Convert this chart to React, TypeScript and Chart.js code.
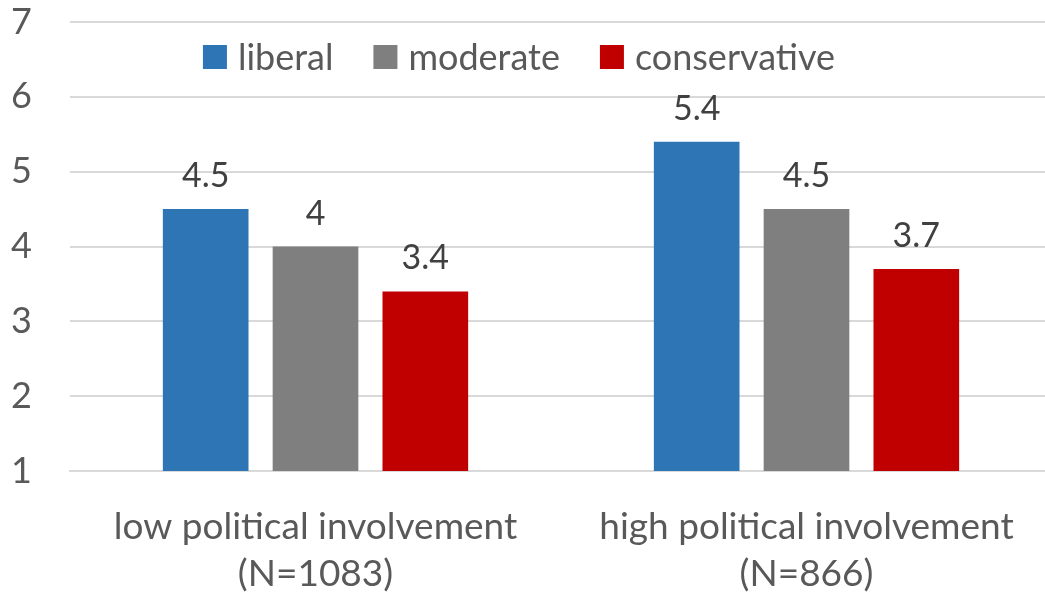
import React, { useEffect, useRef } from "react";
import { Chart, registerables } from "chart.js";

Chart.register(...registerables);

const categories: string[][] = [
  ["low political involvement", "(N=1083)"],
  ["high political involvement", "(N=866)"],
];
const seriesNames = ["liberal", "moderate", "conservative"];
const seriesColors = ["#2E75B6", "#7F7F7F", "#C00000"];
const liberal = [4.5, 5.4];
const moderate = [4.0, 4.5];
const conservative = [3.4, 3.7];
const yMin = 1;
const yMax = 7;
const yStep = 1;

const FONT = "Lato, 'Open Sans', sans-serif";
const TEXT = "#595959";

const legendPlugin = {
  id: "customLegend",
  afterDraw(chart: any) {
    const ctx = chart.ctx;
    ctx.save();
    ctx.font = `36px ${FONT}`;
    ctx.textBaseline = "middle";
    ctx.textAlign = "left";
    const box = 24;
    const gapText = 11;
    const gapItem = 40;
    const widths = seriesNames.map((n) => ctx.measureText(n).width);
    const total =
      widths.reduce((a, b) => a + b, 0) + seriesNames.length * (box + gapText) + gapItem * (seriesNames.length - 1);
    let x = chart.width / 2 - 7 - total / 2;
    const cy = 57;
    seriesNames.forEach((n, i) => {
      ctx.fillStyle = seriesColors[i];
      ctx.fillRect(x, cy - box / 2, box, box);
      x += box + gapText;
      ctx.fillStyle = TEXT;
      ctx.fillText(n, x, cy + 1);
      x += widths[i] + gapItem;
    });
    ctx.restore();
  },
};

const valueLabelPlugin = {
  id: "valueLabels",
  afterDatasetsDraw(chart: any) {
    const ctx = chart.ctx;
    ctx.save();
    ctx.font = `34px ${FONT}`;
    ctx.fillStyle = "#404040";
    ctx.textAlign = "center";
    ctx.textBaseline = "alphabetic";
    chart.data.datasets.forEach((ds: any, di: number) => {
      const meta = chart.getDatasetMeta(di);
      meta.data.forEach((bar: any, i: number) => {
        const v = ds.data[i];
        ctx.fillText(String(v), bar.x, bar.y - 22);
      });
    });
    ctx.restore();
  },
};

export default function App() {
  const ref = useRef<HTMLCanvasElement | null>(null);
  useEffect(() => {
    document.body.style.margin = "0";
    const chart = new Chart(ref.current as HTMLCanvasElement, {
      type: "bar",
      data: {
        labels: categories,
        datasets: [liberal, moderate, conservative].map((d, i) => ({
          label: seriesNames[i],
          data: d,
          backgroundColor: seriesColors[i],
          categoryPercentage: 0.671,
          barPercentage: 0.78,
        })),
      },
      options: {
        responsive: false,
        animation: false,
        layout: { padding: { top: 22, right: 0, left: 0, bottom: 0 } },
        plugins: {
          legend: { display: false },
          tooltip: { enabled: false },
        },
        scales: {
          x: {
            grid: { display: false, drawTicks: false },
            border: { display: true, color: "#d9d9d9", width: 2 },
            ticks: {
              color: TEXT,
              font: { family: FONT, size: 37, lineHeight: 1.27 },
              padding: 33,
              maxRotation: 0,
              autoSkip: false,
            },
            afterFit: (scale: any) => {
              scale.height = 128;
            },
          },
          y: {
            min: yMin,
            max: yMax,
            grid: { color: "#d9d9d9", lineWidth: 2, drawTicks: false },
            border: { display: false },
            ticks: {
              stepSize: yStep,
              color: TEXT,
              font: { family: FONT, size: 36, lineHeight: 1.0 },
              padding: 38,
            },
            afterFit: (scale: any) => {
              scale.width = 70;
              scale.paddingTop = 0;
              scale.paddingBottom = 0;
            },
          },
        },
      },
      plugins: [legendPlugin, valueLabelPlugin],
    });
    return () => chart.destroy();
  }, []);
  return (
    <div style={{ width: 1045, height: 599, overflow: "hidden", position: "relative", background: "#fff" }}>
      <canvas ref={ref} width={1052} height={599} style={{ display: "block" }} />
    </div>
  );
}
